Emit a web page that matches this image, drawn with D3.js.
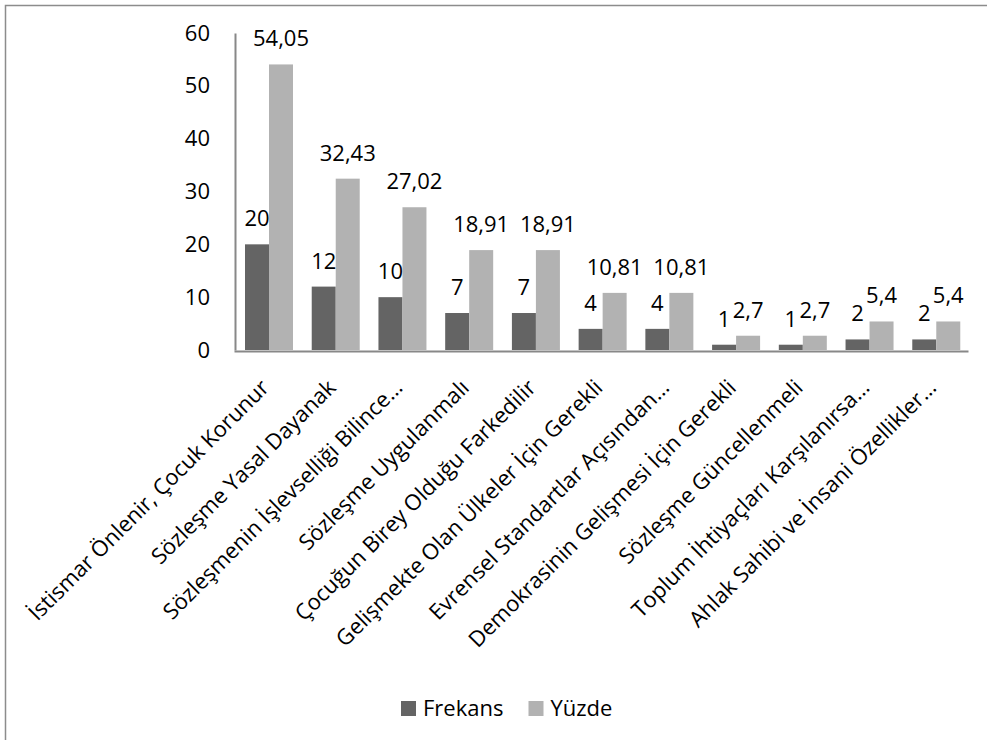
<html>
<head>
<meta charset="utf-8">
<script src="https://d3js.org/d3.v7.min.js"></script>
<style>
body { margin: 0; background: #fff; }
text { font-family: "Open Sans", "Noto Sans", sans-serif; fill: #000; }
</style>
</head>
<body>
<svg id="main_vis" width=987 height=740></svg>

<script>

// categories and values
var categories = [
  "İstismar Önlenir, Çocuk Korunur",
  "Sözleşme Yasal Dayanak",
  "Sözleşmenin İşlevselliği Bilince…",
  "Sözleşme Uygulanmalı",
  "Çocuğun Birey Olduğu Farkedilir",
  "Gelişmekte Olan Ülkeler İçin Gerekli",
  "Evrensel Standartlar Açısından…",
  "Demokrasinin Gelişmesi İçin Gerekli",
  "Sözleşme Güncellenmeli",
  "Toplum İhtiyaçları Karşılanırsa…",
  "Ahlak Sahibi ve İnsani Özellikler…"
]
var frekans = [20, 12, 10, 7, 7, 4, 4, 1, 1, 2, 2]
var yuzde = [54.05, 32.43, 27.02, 18.91, 18.91, 10.81, 10.81, 2.7, 2.7, 5.4, 5.4]
var seriesNames = ["Frekans", "Yüzde"]
var seriesColors = ["#646464", "#b2b2b2"]
var yTicks = [0, 10, 20, 30, 40, 50, 60]

var svg = d3.select("#main_vis")

// outer frame (right and bottom edges fall outside the picture)
svg.append("rect")
  .attr("x", 5.5).attr("y", 5.5)
  .attr("width", 1000).attr("height", 1000)
  .attr("fill", "none")
  .attr("stroke", "#8c8c8c")
  .attr("stroke-width", 1.5)

// scales
var x = d3.scaleBand()
  .domain(categories)
  .range([234, 968])

var xSub = d3.scaleBand()
  .domain(seriesNames)
  .range([11, 59])

var y = d3.scaleLinear()
  .domain([0, 60])
  .range([350, 33])

// rows for the bars
var rows = []
categories.forEach(function(c, i) {
  rows.push({ cat: c, series: "Frekans", value: frekans[i], label: String(frekans[i]) })
  rows.push({ cat: c, series: "Yüzde", value: yuzde[i], label: String(yuzde[i]).replace(".", ",") })
})

// bars
svg.append("g").selectAll("rect")
  .data(rows)
  .enter().append("rect")
    .attr("x", function(d) { return x(d.cat) + xSub(d.series) })
    .attr("y", function(d) { return y(d.value) })
    .attr("width", xSub.bandwidth())
    .attr("height", function(d) { return y(0) - y(d.value) })
    .attr("fill", function(d) { return seriesColors[seriesNames.indexOf(d.series)] })

// value labels
svg.append("g").selectAll("text")
  .data(rows)
  .enter().append("text")
    .attr("x", function(d) { return x(d.cat) + xSub(d.series) + xSub.bandwidth() / 2 })
    .attr("y", function(d) { return y(d.value) - 18 })
    .attr("text-anchor", "middle")
    .attr("font-size", "22px")
    .text(function(d) { return d.label })

// Y axis
var yAxis = svg.append("g")
  .attr("transform", "translate(235,0)")
  .call(d3.axisLeft(y).tickValues(yTicks).tickSize(0).tickPadding(25))
yAxis.select(".domain").attr("stroke", "#888").attr("stroke-width", 2)
yAxis.selectAll("text")
  .attr("font-size", "22px")
  .attr("font-family", "Open Sans, sans-serif")
  .attr("fill", "#000")

// X axis
var xAxis = svg.append("g")
  .attr("transform", "translate(0,351)")
  .call(d3.axisBottom(x).tickSize(0).tickFormat(""))
xAxis.select(".domain").attr("stroke", "#888").attr("stroke-width", 2)

// category labels, rotated
svg.append("g").selectAll("text")
  .data(categories)
  .enter().append("text")
    .attr("transform", function(d) {
      return "translate(" + (x(d) + x.bandwidth() / 2 + 3) + ",389) rotate(-45)"
    })
    .attr("text-anchor", "end")
    .attr("font-size", "22px")
    .text(function(d) { return d })

// legend
var legend = svg.append("g").attr("transform", "translate(401,701)")
var legendX = [0, 127.5]
seriesNames.forEach(function(s, i) {
  legend.append("rect")
    .attr("x", legendX[i]).attr("y", 0)
    .attr("width", 15).attr("height", 15)
    .attr("fill", seriesColors[i])
  legend.append("text")
    .attr("x", legendX[i] + 22).attr("y", 14.5)
    .attr("font-size", "22px")
    .text(s)
})

</script>
</body>
</html>
